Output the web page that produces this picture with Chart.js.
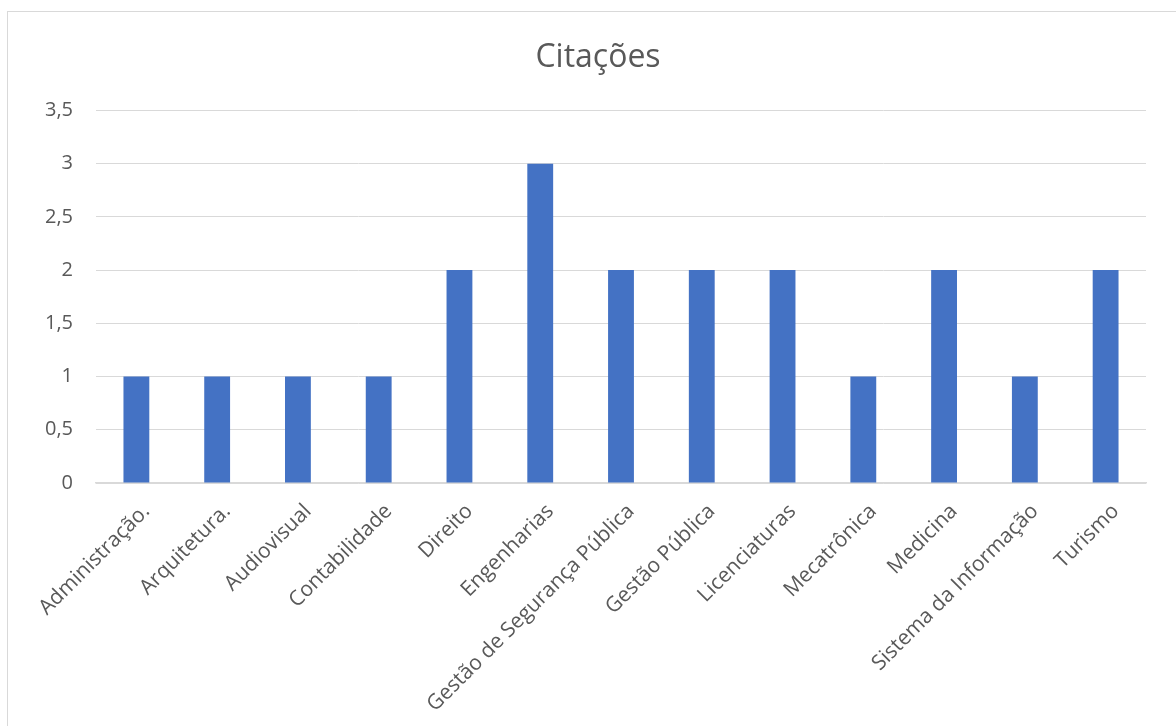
<!DOCTYPE html>
<html>
<head>
<meta charset="utf-8">
<script src="https://cdn.jsdelivr.net/npm/chart.js@4"></script>
<style>
  html,body{margin:0;padding:0;background:#fff;}
  #frame{position:absolute;left:7px;top:11px;width:1200px;height:740px;border-left:1px solid #d9d9d9;border-top:1px solid #d9d9d9;}
  #wrap{position:absolute;left:0;top:0;width:1176px;height:726px;}
</style>
</head>
<body>
<div id="frame"></div>
<div id="wrap"><canvas id="chart"></canvas></div>
<script>
// chart data
const categories = ['Administração.','Arquitetura.','Audiovisual','Contabilidade','Direito','Engenharias','Gestão de Segurança Pública','Gestão Pública','Licenciaturas','Mecatrônica','Medicina','Sistema da Informação','Turismo'];
const citacoes = [1,1,1,1,2,3,2,2,2,1,2,1,2];
const yTicks = [0,0.5,1,1.5,2,2.5,3,3.5];

const txt = '#595959';
Chart.defaults.font.family = '"Open Sans", Lato, sans-serif';
Chart.defaults.color = txt;

// nudge the title a bit to the right, like the original
const titleShift = {
  id:'titleShift',
  afterLayout(chart){ if(chart.titleBlock) chart.titleBlock.left = 50; }
};

new Chart(document.getElementById('chart'),{
  type:'bar',
  data:{labels:categories,datasets:[{label:'Citações',data:citacoes,backgroundColor:'#4472C4',barPercentage:0.32,categoryPercentage:1}]},
  plugins:[titleShift],
  options:{
    responsive:true,maintainAspectRatio:false,animation:false,
    layout:{padding:{left:10,right:30,top:0,bottom:0}},
    plugins:{
      legend:{display:false},
      tooltip:{enabled:false},
      title:{display:true,text:'Citações',color:txt,font:{size:32,weight:'normal'},padding:{top:39,bottom:33}}
    },
    scales:{
      x:{
        grid:{display:false,drawTicks:false},
        border:{display:true,color:'#d9d9d9',width:1.5},
        ticks:{color:txt,font:{size:21},maxRotation:45,minRotation:45,padding:16,labelOffset:10,autoSkip:false},
        afterFit:s=>{s.height=243;}
      },
      y:{
        min:0,max:3.5,
        grid:{color:'#d9d9d9',drawTicks:false},
        border:{display:false},
        afterBuildTicks:s=>{s.ticks=yTicks.map(v=>({value:v}));},
        ticks:{color:txt,font:{size:20},padding:23,callback:v=>String(v).replace('.',',')},
        afterFit:s=>{s.width=86;}
      }
    }
  }
});
</script>
</body>
</html>
